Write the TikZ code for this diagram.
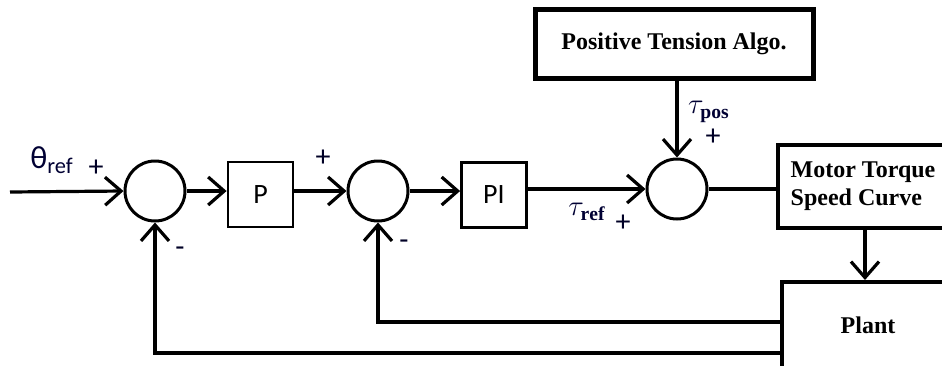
\documentclass[tikz,border=0pt]{standalone}
\usepackage{fontspec}
\setmainfont{Liberation Serif}
\newfontfamily\lblfont{Carlito}
\usetikzlibrary{arrows.meta,calc}
\begin{document}
\begin{tikzpicture}[x=0.5pt,y=-0.5pt,
  wire/.style={line width=1.6pt},
  arr/.style={wire,-{Straight Barb[length=8pt,width=14pt,line width=1.6pt]}},
  sumnode/.style={circle,draw,line width=1.5pt,minimum size=30pt,inner sep=0pt},
  ctrlbox/.style={draw,line width=1.4pt,minimum width=32.5pt,minimum height=32.5pt,inner sep=0pt,font=\lblfont\fontsize{14}{16}\selectfont},
  bigbox/.style={draw,line width=2pt,inner sep=0pt,font=\bfseries\fontsize{12}{14}\selectfont},
  sign/.style={inner sep=0pt,text=black!85!blue,font=\lblfont\fontsize{15}{17}\selectfont},
  lbl/.style={inner sep=0pt,text=black!80!blue}]
\clip (0,0) rectangle (942,365);
\fill[white] (0,0) rectangle (942,365);
% nodes
\coordinate (in) at (10,192);
\node[sumnode] (s1) at (155,191) {};
\node[ctrlbox] (P) at (260.5,194.5) {P};
\node[sumnode] (s2) at (378,191) {};
\node[ctrlbox] (PI) at (494,195) {PI};
\node[sumnode] (s3) at (677,189) {};
\node[bigbox,line width=2.5pt,minimum width=139pt,minimum height=34.5pt] (pta) at (674,43.5) {Positive Tension Algo.};
\node[bigbox,minimum width=85pt,minimum height=41.5pt,align=left] (mt) at (863,186.5) {Motor Torque\\Speed Curve};
\node[bigbox,minimum width=86pt,minimum height=43pt] (pl) at (868,325) {Plant};
% connectors
\draw[arr] (in) -- (s1.west);
\draw[arr] (s1.east) -- (s1.east -| P.west);
\draw[arr] (P.east |- s2.west) -- (s2.west);
\draw[arr] (s2.east) -- (s2.east -| PI.west);
\draw[arr] (PI.east |- s3.west) -- (s3.west);
\draw[arr] (s3.north |- pta.south) -- (s3.north);
\draw[wire] (s3.east) -- (s3.east -| mt.west);
\coordinate (mtout) at (865,228);
\draw[arr] (mtout |- mt.south) -- (mtout |- pl.north);
\coordinate (fb1) at (782,322);
\coordinate (fb2) at (782,353);
\draw[arr] (fb1) -| (s2.south);
\draw[arr] (fb2) -| (s1.south);
% labels
\node[lbl,font=\lblfont\fontsize{16}{18}\selectfont] (thref) at (52,160) {θ\textsubscript{ref}};
\node[sign] (p1) at (96,168) {+};
\node[sign] (m1) at (180,252) {-};
\node[sign] (p2) at (323,158) {+};
\node[sign] (m2) at (404,245) {-};
\node[lbl,font=\fontsize{14}{16}\selectfont] (tref) at (587,212) {$\tau_{\mathbf{ref}}$};
\node[sign] (p3) at (623,223) {+};
\node[lbl,font=\fontsize{14}{16}\selectfont] (tpos) at (709,112) {$\tau_{\mathbf{pos}}$};
\node[sign] (p4) at (713,137) {+};
\end{tikzpicture}
\end{document}
